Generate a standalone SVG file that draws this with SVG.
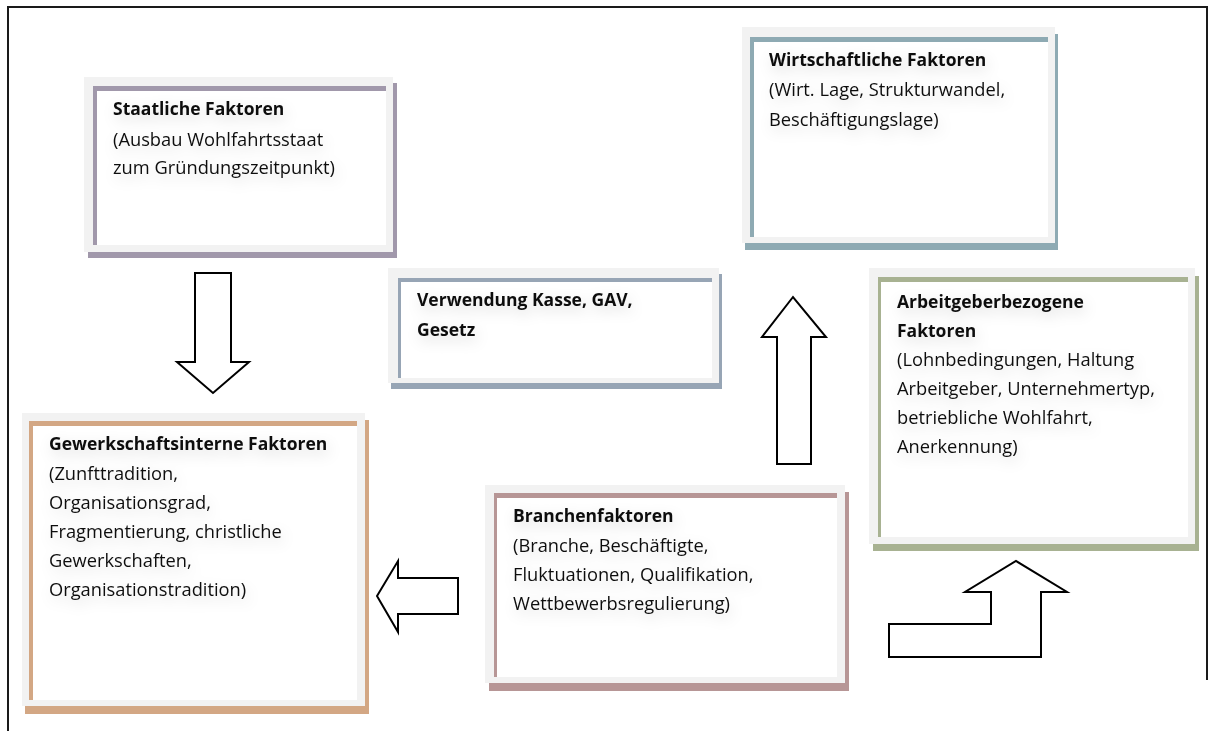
<svg xmlns="http://www.w3.org/2000/svg" width="1215" height="731" viewBox="0 0 1215 731">
  <style>
    .frame { stroke: #1a1a1a; stroke-width: 2; fill: none; }
    .band { fill: #f2f2f2; }
    .inner { fill: #ffffff; }
    .lbl { font-family: "Open Sans", "Liberation Sans", sans-serif; font-size: 18.3px; fill: #111111; }
    .lbl .h { font-weight: bold; font-size: 17.5px; }
    .arrow { fill: #ffffff; stroke: #000000; stroke-width: 2; stroke-linejoin: miter; }
    .c-staat { fill: #a198ab; }
    .c-wirt { fill: #8eaab3; }
    .c-verw { fill: #97a5b5; }
    .c-arb { fill: #a8b292; }
    .c-gew { fill: #d3a784; }
    .c-bra { fill: #b79696; }
  </style>
  <defs>
    <!-- soft grey haze behind the label text -->
    <filter id="haze" x="-20%" y="-40%" width="140%" height="180%">
      <feGaussianBlur in="SourceAlpha" stdDeviation="7" result="b"/>
      <feOffset in="b" dx="2" dy="5" result="o"/>
      <feFlood flood-color="#000000" flood-opacity="0.15"/>
      <feComposite in2="o" operator="in" result="s"/>
      <feMerge>
        <feMergeNode in="s"/>
        <feMergeNode in="SourceGraphic"/>
      </feMerge>
    </filter>
  </defs>

  <rect width="1215" height="731" fill="#ffffff"/>

  <!-- page frame -->
  <g id="frame">
    <line class="frame" x1="7" y1="7" x2="1208" y2="7"/>
    <line class="frame" x1="8" y1="6" x2="8" y2="731"/>
    <line class="frame" x1="1207" y1="6" x2="1207" y2="680"/>
  </g>

  <!-- Staatliche Faktoren -->
  <g id="node-staat">
    <rect class="c-staat" x="88" y="83" width="309" height="175"/>
    <rect class="band" x="84" y="77" width="309" height="175"/>
    <rect class="inner" x="93" y="86" width="293" height="159"/>
    <rect class="c-staat" x="93" y="86" width="293" height="5"/>
    <rect class="c-staat" x="93" y="86" width="4" height="159"/>
    <text class="lbl" filter="url(#haze)">
      <tspan class="h" x="113" y="115">Staatliche Faktoren</tspan>
      <tspan x="113" y="146">(Ausbau Wohlfahrtsstaat</tspan>
      <tspan x="113" y="174">zum Gründungszeitpunkt)</tspan>
    </text>
  </g>

  <!-- Wirtschaftliche Faktoren -->
  <g id="node-wirt">
    <rect class="c-wirt" x="745" y="34" width="313" height="216"/>
    <rect class="band" x="742" y="27" width="313" height="216"/>
    <rect class="inner" x="750" y="37" width="298" height="200"/>
    <rect class="c-wirt" x="750" y="37" width="298" height="5"/>
    <rect class="c-wirt" x="750" y="37" width="4" height="200"/>
    <text class="lbl" filter="url(#haze)">
      <tspan class="h" x="769" y="66">Wirtschaftliche Faktoren</tspan>
      <tspan x="769" y="96">(Wirt. Lage, Strukturwandel,</tspan>
      <tspan x="769" y="126">Beschäftigungslage)</tspan>
    </text>
  </g>

  <!-- Verwendung Kasse, GAV, Gesetz -->
  <g id="node-verw">
    <rect class="c-verw" x="391" y="274" width="331" height="115"/>
    <rect class="band" x="388" y="268" width="331" height="115"/>
    <rect class="inner" x="398" y="278" width="314" height="100"/>
    <rect class="c-verw" x="398" y="278" width="314" height="4"/>
    <rect class="c-verw" x="398" y="278" width="3" height="100"/>
    <text class="lbl" filter="url(#haze)">
      <tspan class="h" x="417" y="306">Verwendung Kasse, GAV,</tspan>
      <tspan class="h" x="417" y="336">Gesetz</tspan>
    </text>
  </g>

  <!-- Arbeitgeberbezogene Faktoren -->
  <g id="node-arb">
    <rect class="c-arb" x="873" y="276" width="326" height="275"/>
    <rect class="band" x="869" y="268" width="326" height="276"/>
    <rect class="inner" x="878" y="277" width="310" height="260"/>
    <rect class="c-arb" x="878" y="277" width="310" height="5"/>
    <rect class="c-arb" x="878" y="277" width="3" height="260"/>
    <text class="lbl" filter="url(#haze)">
      <tspan class="h" x="897" y="308">Arbeitgeberbezogene</tspan>
      <tspan class="h" x="897" y="337">Faktoren</tspan>
      <tspan x="897" y="366">(Lohnbedingungen, Haltung</tspan>
      <tspan x="897" y="395">Arbeitgeber, Unternehmertyp,</tspan>
      <tspan x="897" y="424">betriebliche Wohlfahrt,</tspan>
      <tspan x="897" y="453">Anerkennung)</tspan>
    </text>
  </g>

  <!-- Gewerkschaftsinterne Faktoren -->
  <g id="node-gew">
    <rect class="c-gew" x="25" y="420" width="344" height="294"/>
    <rect class="band" x="22" y="413" width="343" height="293"/>
    <rect class="inner" x="29" y="421" width="328" height="279"/>
    <rect class="c-gew" x="29" y="421" width="328" height="5"/>
    <rect class="c-gew" x="29" y="421" width="4" height="279"/>
    <text class="lbl" filter="url(#haze)">
      <tspan class="h" x="49" y="450">Gewerkschaftsinterne Faktoren</tspan>
      <tspan x="49" y="480">(Zunfttradition,</tspan>
      <tspan x="49" y="509">Organisationsgrad,</tspan>
      <tspan x="49" y="538">Fragmentierung, christliche</tspan>
      <tspan x="49" y="567">Gewerkschaften,</tspan>
      <tspan x="49" y="596">Organisationstradition)</tspan>
    </text>
  </g>

  <!-- Branchenfaktoren -->
  <g id="node-bra">
    <rect class="c-bra" x="489" y="492" width="360" height="199"/>
    <rect class="band" x="485" y="485" width="360" height="198"/>
    <rect class="inner" x="494" y="493" width="343" height="184"/>
    <rect class="c-bra" x="494" y="493" width="343" height="5"/>
    <rect class="c-bra" x="494" y="493" width="3" height="184"/>
    <text class="lbl" filter="url(#haze)">
      <tspan class="h" x="513" y="522">Branchenfaktoren</tspan>
      <tspan x="513" y="552">(Branche, Beschäftigte,</tspan>
      <tspan x="513" y="581">Fluktuationen, Qualifikation,</tspan>
      <tspan x="513" y="610">Wettbewerbsregulierung)</tspan>
    </text>
  </g>

  <!-- block arrows between the factor boxes -->
  <g id="connectors">
    <polygon class="arrow" points="195,273 231,273 231,362 249,362 213,393 177,362 195,362"/>
    <polygon class="arrow" points="777,464 777,337 762,337 793,297 826,337 811,337 811,464"/>
    <polygon class="arrow" points="458,578 398,578 398,561 377,596 398,632 398,614 458,614"/>
    <polygon class="arrow" points="889,624 991,624 991,592 965,592 1016,561 1067,592 1041,592 1041,657 889,657"/>
  </g>
</svg>
